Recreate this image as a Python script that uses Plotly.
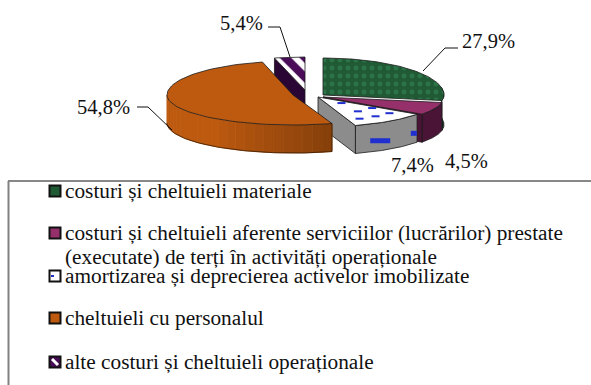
import numpy as np
import plotly.graph_objects as go

categories = ["costuri și cheltuieli materiale",
              "costuri și cheltuieli aferente serviciilor (lucrărilor) prestate",
              "amortizarea și deprecierea activelor imobilizate",
              "cheltuieli cu personalul",
              "alte costuri și cheltuieli operaționale"]
legend_extra = "(executate) de terți în activități operaționale"
values = [27.9, 4.5, 7.4, 54.8, 5.4]
labels = ["27,9%", "4,5%", "7,4%", "54,8%", "5,4%"]

SERIF = "Liberation Serif"
# Apparent angle of the tilted pie for a true angle
KT = [0, 100, 116.6, 143.3, 340.6, 360]
KA = [0, 100, 125, 162, 346, 360]
cum = np.concatenate([[0], np.cumsum(values)]) * 3.6

# centre x, centre y, rx, ry back, ry front, wall thickness
GEOM = [(323, 95, 121, 37, 30, 30), (323, 97, 121, 37, 30, 28), (318, 97, 121, 37, 30, 28),
        (293, 95, 126, 34, 30, 28), (305, 90, 126, 33, 30, 18)]
TOPS = ["#1f5a34", "#96306a", "#ffffff", "#bd5a10", "#4a0c58"]
WALLS = ["#123a20", "#4a1436", "#8c8c8c", "#bd5a10", "#2a0635"]

fig = go.Figure()


def arc(i, a0=None, a1=None, n=80):
    cx, cy, rx, ryb, ryf, _ = GEOM[i]
    a0 = np.interp(cum[i], KT, KA) if a0 is None else a0
    a1 = np.interp(cum[i + 1], KT, KA) if a1 is None else a1
    t = np.radians(np.linspace(a0, a1, n))
    ry = np.where(np.cos(t) > 0, ryb, ryf)
    return cx + rx * np.sin(t), cy - ry * np.cos(t)


def poly(x, y, fill, line="#1a1a1a", width=0.8, pattern=None):
    kw = dict(fillpattern=pattern) if pattern else {}
    fig.add_trace(go.Scatter(x=list(x) + [x[0]], y=list(y) + [y[0]], mode="lines", fill="toself",
                             fillcolor=fill, line=dict(color=line, width=width),
                             hoverinfo="skip", showlegend=False, **kw))


def wall(i, a0, a1, color, line="#1a1a1a"):
    x, y = arc(i, a0, a1)
    d = GEOM[i][5]
    poly(np.r_[x, x[::-1]], np.r_[y, y[::-1] + d], color, line)


def shade(c, f):
    r, g, b = int(c[1:3], 16), int(c[3:5], 16), int(c[5:7], 16)
    return f"rgb({int(r*f)},{int(g*f)},{int(b*f)})"


def ang(i):
    return np.interp(cum[i], KT, KA), np.interp(cum[i + 1], KT, KA)


def top(i, pattern=None):
    x, y = arc(i)
    c = GEOM[i]
    poly(np.r_[c[0], x], np.r_[c[1], y], TOPS[i], pattern=pattern)


def radial(i, a, color):
    x, y = arc(i, a, a, 1)
    c = GEOM[i]
    d = c[5]
    poly([c[0], x[0], x[0], c[0]], [c[1], y[0], y[0] + d, c[1] + d], color)


# alte costuri (back)
radial(4, ang(4)[0], WALLS[4])
top(4, dict(shape="\\", size=14, solidity=0.42, fgcolor="#ffffff", bgcolor=TOPS[4],
            fgopacity=1, fillmode="replace"))
# materiale
wall(0, 78, ang(0)[1], WALLS[0])
top(0, dict(shape=".", size=8, solidity=0.3, fgcolor="#2f7a4c", bgcolor=TOPS[0], fgopacity=0.8,
            fillmode="replace"))
# servicii
wall(1, *ang(1), WALLS[1])
radial(1, ang(1)[1], WALLS[1])
top(1)
# amortizare
radial(2, ang(2)[1], WALLS[2])
wall(2, *ang(2), WALLS[2])
top(2)
a0, a1 = ang(2)
cx, cy, rx, ryb, ryf, d = GEOM[2]
for fr, gs in [(0.28, (0.3,)), (0.58, (0.12, 0.55)), (0.8, (0.2, 0.5, 0.8))]:
    for g in gs:
        x0, y0 = arc(2, a0 + (a1 - a0) * g, a0 + (a1 - a0) * g, 1)
        xs = cx + (x0[0] - cx) * fr
        ys = cy + (y0[0] - cy) * fr
        fig.add_trace(go.Scatter(x=[xs - 4, xs + 4], y=[ys, ys], mode="lines",
                                 line=dict(color="#1f2fd0", width=2),
                                 hoverinfo="skip", showlegend=False))
for g, w in [(0.35, 10), (0.93, 3)]:
    x0, y0 = arc(2, a1 - (a1 - a0) * g, a1 - (a1 - a0) * g, 1)
    fig.add_trace(go.Scatter(x=[x0[0] - w, x0[0] + w], y=[y0[0] + 18, y0[0] + 18], mode="lines",
                             line=dict(color="#1f2fd0", width=5), hoverinfo="skip", showlegend=False))
# personal: wall gradient, then top
a0, a1 = ang(3)
edges = np.linspace(a0, 270, 25)
for k in range(24):
    f = 0.72 + 0.28 * min(1, k / 12)
    wall(3, edges[k], edges[k + 1], shade(WALLS[3], f), line=shade(WALLS[3], f))
x, y = arc(3, a0, 270)
fig.add_trace(go.Scatter(x=x, y=y + GEOM[3][5], mode="lines", line=dict(color="#3a1c00", width=0.8),
                         hoverinfo="skip", showlegend=False))
x, y = arc(3, a0, a0, 1)
fig.add_trace(go.Scatter(x=[x[0], x[0]], y=[y[0], y[0] + GEOM[3][5]], mode="lines",
                         line=dict(color="#3a1c00", width=0.8), hoverinfo="skip", showlegend=False))
top(3)

# leader lines
for xs, ys in [([423, 445, 458], [71, 48, 48]), ([268, 280, 290], [27, 27, 57]), ([137, 148, 172], [107, 107, 130])]:
    fig.add_trace(go.Scatter(x=xs, y=ys, mode="lines", line=dict(color="#111", width=1),
                             hoverinfo="skip", showlegend=False))

ann = []
for t, x, y in zip(labels, [460, 443, 389, 75, 218], [41, 161, 165, 107, 23]):
    ann.append(dict(x=x, y=y, text=t, showarrow=False, xanchor="left", yanchor="middle",
                    font=dict(family=SERIF, size=20.5, color="#111")))

rows = [191, 233, 276, 318, 362]
for t, y in zip(categories, rows):
    ann.append(dict(x=63, y=y, text=t, showarrow=False, xanchor="left", yanchor="middle",
                    font=dict(family=SERIF, size=21.3, color="#111")))
ann.append(dict(x=63, y=257, text=legend_extra, showarrow=False, xanchor="left", yanchor="middle",
                font=dict(family=SERIF, size=21.3, color="#111")))

shapes = [dict(type="line", x0=8, x1=591, y0=181, y1=181, line=dict(color="#111", width=1)),
          dict(type="line", x0=8.5, x1=8.5, y0=181, y1=385, line=dict(color="#808080", width=2))]
for y, c in zip(rows, TOPS):
    shapes.append(dict(type="rect", x0=49.5, x1=60.5, y0=y - 5.5, y1=y + 5.5, fillcolor=c,
                       line=dict(color="#111", width=2), layer="below"))
fig.add_trace(go.Scatter(x=[51, 54], y=[rows[2], rows[2]], mode="lines", line=dict(color="#1f2fd0", width=2),
                         hoverinfo="skip", showlegend=False))
fig.add_trace(go.Scatter(x=[52, 58], y=[rows[4] - 3, rows[4] + 3], mode="lines", line=dict(color="#ffffff", width=3),
                         hoverinfo="skip", showlegend=False))

fig.update_layout(width=591, height=385, margin=dict(l=0, r=0, t=0, b=0), autosize=False,
                  paper_bgcolor="white", plot_bgcolor="white", showlegend=False,
                  annotations=ann, shapes=shapes,
                  xaxis=dict(range=[0, 591], visible=False, fixedrange=True),
                  yaxis=dict(range=[385, 0], visible=False, fixedrange=True))
fig.write_html("out.html", config=dict(displayModeBar=False),
               post_script="document.body.style.margin='0';document.documentElement.style.overflow='hidden';")
